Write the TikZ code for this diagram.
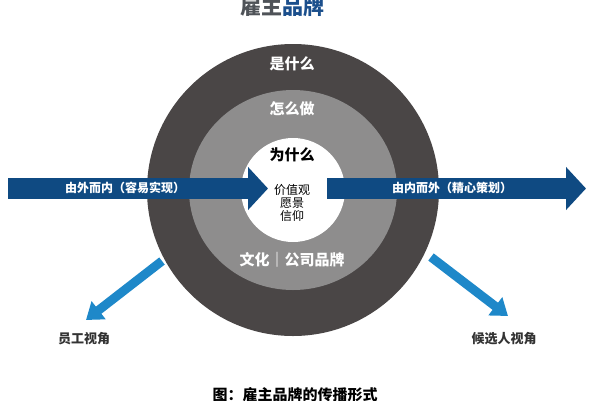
\documentclass[tikz,border=0pt]{standalone}
\usepackage{fontspec}
\setmainfont{Noto Sans CJK SC}
\usetikzlibrary{arrows.meta}
\definecolor{navy}{HTML}{0F4A82}
\definecolor{lblue}{HTML}{1E88C9}
\definecolor{dgray}{HTML}{4A4646}
\definecolor{mgray}{HTML}{8E8D8D}
\definecolor{tgray}{HTML}{4F5358}
\definecolor{tblue}{HTML}{1B4F8C}
\begin{document}
\begin{tikzpicture}[x=1pt,y=-1pt,
  bigarrow/.style={navy,line width=21pt,-{Triangle[width=42pt,length=20pt]}},
  diagarrow/.style={lblue,line width=9pt,-{Triangle[width=22pt,length=16pt]}},
  ringtxt/.style={font=\bfseries\fontsize{15}{15}\selectfont,text=white},
  arrtxt/.style={font=\bfseries\fontsize{12}{12}\selectfont,text=white},
  lbl/.style={font=\bfseries\fontsize{13}{13}\selectfont,text=black!80},
  coretxt/.style={font=\fontsize{12}{14}\selectfont,text=black}]
\useasboundingbox (0,0) rectangle (600,400);
% rings
\fill[dgray] (293,190) circle (146);
\fill[mgray] (293,190) ellipse (104 and 100);
\fill[white] (293,190) circle (52);
% title
\node (title) at (282,6) {\bfseries\fontsize{21}{21}\selectfont\textcolor{tgray}{雇主}\textcolor{tblue}{品牌}};
% ring texts
\node[ringtxt] (what) at (292,64) {是什么};
\node[ringtxt] (how) at (292,109) {怎么做};
\node[ringtxt,text=black] (why) at (292,155) {为什么};
\node[coretxt,align=center] (core) at (292,203) {价值观\\[-1pt]愿景\\[-1pt]信仰};
\node[ringtxt] (culture) at (292,260) {文化｜公司品牌};
% horizontal arrows
\coordinate (la) at (8,188.5);
\coordinate (lb) at (268,188.5);
\coordinate (ra) at (327,188.5);
\coordinate (rb) at (586,188.5);
\draw[bigarrow] (la) -- (lb);
\draw[bigarrow] (ra) -- (rb);
\node[arrtxt] (intxt) at (125,188) {由外而内（容易实现）};
\node[arrtxt] (outtxt) at (452,188) {由内而外（精心策划）};
% diagonal arrows
\coordinate (dl) at (162,261);
\coordinate (dr) at (431,257);
\node[lbl] (emp) at (84,339) {员工视角};
\node[lbl] (cand) at (504,339) {候选人视角};
\coordinate (tl) at (86,320);
\coordinate (tr) at (508,316);
\draw[diagarrow] (dl) -- (tl);
\draw[diagarrow] (dr) -- (tr);
% caption
\node (cap) at (295,395) {\bfseries\fontsize{15}{15}\selectfont 图：雇主品牌的传播形式};
\end{tikzpicture}
\end{document}
